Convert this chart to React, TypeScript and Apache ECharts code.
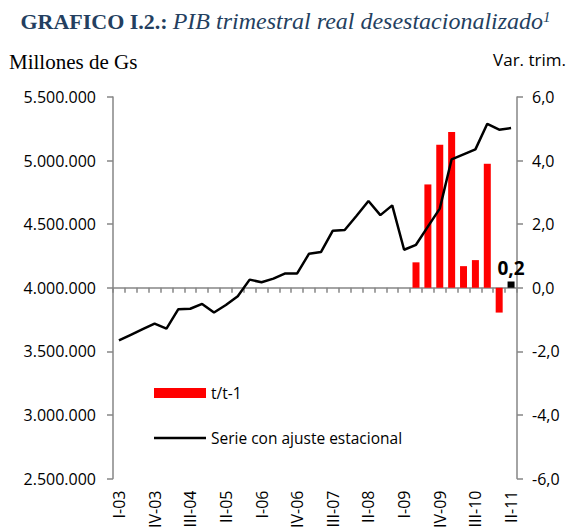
import React, { useEffect, useRef } from "react";
import * as echarts from "echarts";

const categories = [
  "I-03", "II-03", "III-03", "IV-03",
  "I-04", "II-04", "III-04", "IV-04",
  "I-05", "II-05", "III-05", "IV-05",
  "I-06", "II-06", "III-06", "IV-06",
  "I-07", "II-07", "III-07", "IV-07",
  "I-08", "II-08", "III-08", "IV-08",
  "I-09", "II-09", "III-09", "IV-09",
  "I-10", "II-10", "III-10", "IV-10",
  "I-11", "II-11",
];

const serieAjustada = [
  3586000, 3630000, 3674000, 3718000,
  3679000, 3832000, 3835000, 3873000,
  3806000, 3865000, 3933000, 4064000,
  4043000, 4072000, 4113000, 4113000,
  4268000, 4281000, 4449000, 4454000,
  4566000, 4682000, 4571000, 4648000,
  4299000, 4338000, 4481000, 4622000,
  5010000, 5049000, 5088000, 5289000,
  5243000, 5256000,
];

const variacionTrim: (number | null)[] = [
  null, null, null, null, null, null, null, null,
  null, null, null, null, null, null, null, null,
  null, null, null, null, null, null, null, null,
  null, 0.8, 3.25, 4.5, 4.9, 0.68, 0.87, 3.9, -0.78, 0.2,
];

const titleBold = "GRAFICO I.2.:";
const titleItalic = "PIB trimestral real desestacionalizado";
const leftAxisName = "Millones de Gs";
const rightAxisName = "Var. trim.";
const barName = "t/t-1";
const lineName = "Serie con ajuste estacional";

const sans = "'Open Sans', 'Noto Sans', sans-serif";
const serif = "'Liberation Serif', 'DejaVu Serif', serif";
const gray = "#868686";
const titleColor = "#243F60";

function fmtThousands(v: number): string {
  return Math.round(v)
    .toString()
    .replace(/\B(?=(\d{3})+(?!\d))/g, ".");
}

export default function App() {
  const ref = useRef<HTMLDivElement>(null);

  useEffect(() => {
    if (!ref.current) return;
    const chart = echarts.init(ref.current, undefined, { renderer: "svg" });
    const lastIdx = variacionTrim.length - 1;
    const barData = variacionTrim.map((v, i) =>
      i === lastIdx && v !== null
        ? {
            value: v,
            itemStyle: { color: "#000000" },
            label: {
              show: true,
              position: "top",
              distance: 4,
              formatter: () => String(v).replace(".", ","),
              fontFamily: sans,
              fontWeight: "bold",
              fontSize: 19,
              color: "#000000",
            },
          }
        : v
    );

    chart.setOption({
      animation: false,
      backgroundColor: "#ffffff",
      title: {
        text: `{b|${titleBold}} {i|${titleItalic}}{s|1}`,
        left: "center",
        top: 4,
        textStyle: {
          fontWeight: "normal",
          rich: {
            b: {
              fontFamily: serif,
              fontWeight: "bold",
              fontSize: 22,
              color: titleColor,
            },
            i: {
              fontFamily: serif,
              fontStyle: "italic",
              fontWeight: "normal",
              fontSize: 24,
              color: titleColor,
            },
            s: {
              fontFamily: serif,
              fontStyle: "italic",
              fontWeight: "normal",
              fontSize: 15,
              color: titleColor,
              verticalAlign: "top",
            },
          },
        },
      },
      graphic: [
        {
          type: "text",
          left: 9,
          top: 51,
          style: {
            text: leftAxisName,
            fontFamily: serif,
            fontSize: 21,
            fill: "#000000",
          },
        },
        {
          type: "text",
          right: 5,
          top: 51,
          style: {
            text: rightAxisName,
            fontFamily: sans,
            fontSize: 17,
            fill: "#000000",
          },
        },
      ],
      legend: [
        {
          data: [{ name: barName, icon: "rect" }],
          left: 149,
          top: 380,
          itemWidth: 52,
          itemHeight: 10,
          itemGap: 5,
          textStyle: { fontFamily: sans, fontSize: 15.5, color: "#000000" },
        },
        {
          data: [{ name: lineName, icon: "rect" }],
          left: 149,
          top: 425,
          itemWidth: 52,
          itemHeight: 2.5,
          itemStyle: { color: "#000000" },
          textStyle: { fontFamily: sans, fontSize: 15.5, color: "#000000" },
        },
      ],
      grid: { left: 113, right: 54, top: 97, bottom: 47, containLabel: false },
      xAxis: [
        {
          type: "category",
          data: categories,
          boundaryGap: true,
          axisLine: {
            show: true,
            onZero: true,
            onZeroAxisIndex: 1,
            lineStyle: { color: gray, width: 1.5 },
          },
          axisTick: {
            show: true,
            interval: 0,
            length: 5,
            lineStyle: { color: gray, width: 1.5 },
          },
          axisLabel: { show: false },
          splitLine: { show: false },
        },
        {
          type: "category",
          data: categories,
          position: "bottom",
          boundaryGap: true,
          axisLine: { show: false, onZero: false },
          axisTick: { show: false },
          axisLabel: {
            show: true,
            interval: 2,
            rotate: 90,
            margin: 12,
            fontFamily: sans,
            fontSize: 16,
            color: "#000000",
          },
          splitLine: { show: false },
        },
      ],
      yAxis: [
        {
          type: "value",
          position: "left",
          min: 2500000,
          max: 5500000,
          interval: 500000,
          axisLine: { show: true, lineStyle: { color: gray, width: 1.5 } },
          axisTick: { show: true, length: 6, lineStyle: { color: gray, width: 1.5 } },
          axisLabel: {
            formatter: (v: number) => fmtThousands(v),
            margin: 17,
            fontFamily: sans,
            fontSize: 16,
            color: "#000000",
          },
          splitLine: { show: false },
        },
        {
          type: "value",
          position: "right",
          min: -6,
          max: 6,
          interval: 2,
          axisLine: { show: true, lineStyle: { color: gray, width: 1.5 } },
          axisTick: { show: true, length: 6, lineStyle: { color: gray, width: 1.5 } },
          axisLabel: {
            formatter: (v: number) => v.toFixed(1).replace(".", ","),
            margin: 15,
            fontFamily: sans,
            fontSize: 16,
            color: "#000000",
          },
          splitLine: { show: false },
        },
      ],
      series: [
        {
          name: barName,
          type: "bar",
          xAxisIndex: 0,
          yAxisIndex: 1,
          data: barData,
          barWidth: 7,
          itemStyle: { color: "#FF0000" },
          z: 2,
        },
        {
          name: lineName,
          type: "line",
          xAxisIndex: 0,
          yAxisIndex: 0,
          data: serieAjustada,
          symbol: "none",
          lineStyle: { color: "#000000", width: 2.5 },
          itemStyle: { color: "#000000" },
          z: 3,
        },
      ],
    });

    return () => {
      chart.dispose();
    };
  }, []);

  return (
    <div
      ref={ref}
      style={{
        position: "fixed",
        left: 0,
        top: 0,
        width: 571,
        height: 531,
        background: "#ffffff",
      }}
    />
  );
}
